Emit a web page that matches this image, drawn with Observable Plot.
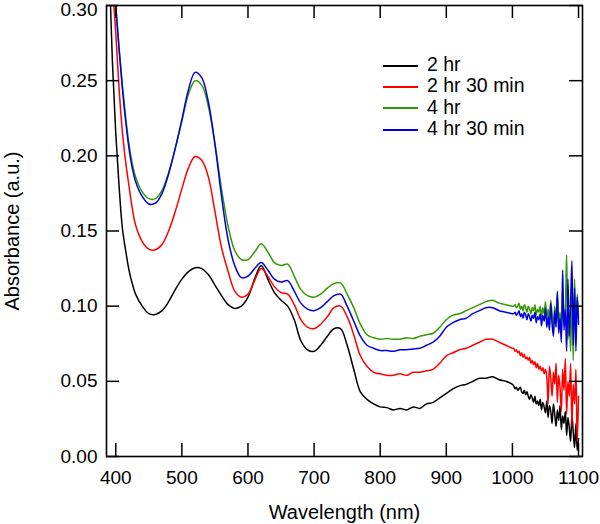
<!DOCTYPE html>
<html>
<head>
<meta charset="utf-8">
<script src="https://cdn.jsdelivr.net/npm/d3@7"></script>
<script src="https://cdn.jsdelivr.net/npm/@observablehq/plot@0.6"></script>
<style>
  body { margin: 0; background: white; }
  #wrap { position: relative; width: 600px; height: 524px; }
  #legend { position: absolute; left: 383px; top: 54px; font-family: "Liberation Sans", Arial, sans-serif; font-size: 19.5px; color: black; }
  .row { height: 21.3px; line-height: 21.3px; white-space: nowrap; }
  .sw { display: inline-block; width: 35px; height: 2px; vertical-align: middle; margin-right: 9px; }
</style>
</head>
<body>
<div id="wrap"></div>
<script>
// ---- data ----
const seriesNames = ["2 hr", "2 hr 30 min", "4 hr", "4 hr 30 min"];
const seriesColors = ["#000000", "#ff0000", "#339900", "#0000dd"];

const wavelengthSmooth = [390,395,400,405,410,415,420,425,430,440,450,460,470,480,490,500,510,520,530,540,550,560,570,580,590,600,610,620,630,640,650,660,670,680,690,700,710,720,730,740,750,760,770,780,790,800,810,820,830,840,850,860,870,880,890,900,910,920,930,940,950,960,970,980,990,1000];
const wavelengthNoisy = [1002,1004,1006,1008,1010,1012,1014,1016,1018,1020,1022,1024,1026,1028,1030,1032,1034,1036,1038,1040,1042,1044,1046,1048,1050,1052,1054,1056,1058,1060,1062,1064,1066,1068,1070,1072,1074,1076,1078,1080,1082,1084,1086,1088,1090,1092,1094,1096,1098,1100];

const abs2hrSmooth = [0.330,0.262,0.215,0.180,0.152,0.137,0.124,0.115,0.108,0.100,0.095,0.0945,0.097,0.103,0.111,0.118,0.123,0.1255,0.125,0.121,0.114,0.107,0.101,0.0985,0.100,0.106,0.118,0.127,0.118,0.109,0.104,0.100,0.091,0.077,0.071,0.070,0.074,0.080,0.085,0.085,0.074,0.058,0.043,0.038,0.035,0.033,0.0325,0.031,0.032,0.031,0.033,0.032,0.035,0.036,0.039,0.042,0.045,0.047,0.048,0.050,0.052,0.052,0.053,0.051,0.050,0.048];
const abs2hrNoisy = [0.047,0.045,0.046,0.044,0.045,0.046,0.043,0.042,0.044,0.041,0.043,0.040,0.038,0.041,0.039,0.036,0.040,0.035,0.037,0.034,0.038,0.031,0.036,0.033,0.029,0.037,0.026,0.034,0.030,0.022,0.035,0.028,0.020,0.031,0.024,0.034,0.018,0.027,0.022,0.030,0.014,0.026,0.019,0.010,0.028,0.016,0.006,0.022,0.004,0.012];

const abs2hr30Smooth = [0.360,0.315,0.282,0.245,0.216,0.196,0.180,0.165,0.154,0.143,0.138,0.1375,0.141,0.150,0.163,0.178,0.192,0.1995,0.197,0.186,0.163,0.139,0.123,0.110,0.106,0.108,0.117,0.125,0.120,0.113,0.109,0.108,0.101,0.091,0.086,0.085,0.088,0.093,0.099,0.100,0.093,0.081,0.067,0.060,0.056,0.055,0.054,0.054,0.055,0.054,0.056,0.056,0.057,0.058,0.062,0.067,0.069,0.071,0.072,0.074,0.076,0.078,0.078,0.076,0.074,0.072];
const abs2hr30Noisy = [0.072,0.070,0.071,0.069,0.070,0.067,0.069,0.066,0.068,0.065,0.066,0.064,0.066,0.062,0.064,0.061,0.063,0.059,0.062,0.058,0.060,0.057,0.059,0.055,0.058,0.053,0.035,0.060,0.052,0.040,0.056,0.048,0.062,0.036,0.054,0.046,0.030,0.058,0.044,0.065,0.028,0.050,0.040,0.062,0.020,0.048,0.035,0.058,0.010,0.040];

const abs4hrSmooth = [0.370,0.330,0.300,0.272,0.247,0.226,0.208,0.195,0.186,0.176,0.1715,0.1715,0.177,0.189,0.205,0.223,0.241,0.250,0.247,0.233,0.208,0.178,0.153,0.137,0.131,0.131,0.136,0.1415,0.136,0.129,0.127,0.128,0.120,0.111,0.107,0.106,0.108,0.112,0.115,0.1155,0.108,0.099,0.088,0.081,0.079,0.078,0.0785,0.078,0.078,0.079,0.0785,0.080,0.081,0.082,0.086,0.091,0.094,0.095,0.097,0.099,0.101,0.103,0.104,0.102,0.101,0.100];
const abs4hrNoisy = [0.100,0.101,0.099,0.100,0.102,0.098,0.100,0.097,0.101,0.099,0.096,0.100,0.098,0.095,0.099,0.097,0.101,0.094,0.098,0.096,0.100,0.093,0.099,0.095,0.103,0.092,0.098,0.090,0.104,0.094,0.086,0.100,0.092,0.108,0.088,0.096,0.082,0.112,0.090,0.100,0.134,0.078,0.096,0.070,0.110,0.064,0.118,0.085,0.108,0.092];

const abs4hr30Smooth = [0.370,0.330,0.300,0.271,0.245,0.223,0.205,0.192,0.183,0.173,0.168,0.1685,0.175,0.188,0.205,0.224,0.244,0.2555,0.252,0.236,0.208,0.173,0.144,0.127,0.119,0.120,0.125,0.129,0.124,0.118,0.116,0.117,0.110,0.102,0.098,0.097,0.099,0.103,0.107,0.108,0.100,0.090,0.080,0.074,0.072,0.0705,0.0705,0.070,0.071,0.071,0.0715,0.072,0.074,0.076,0.080,0.086,0.089,0.091,0.092,0.095,0.097,0.099,0.099,0.097,0.096,0.095];
const abs4hr30Noisy = [0.095,0.096,0.094,0.095,0.097,0.093,0.095,0.092,0.096,0.094,0.091,0.095,0.093,0.090,0.094,0.092,0.096,0.089,0.093,0.091,0.095,0.087,0.094,0.090,0.099,0.086,0.093,0.084,0.102,0.088,0.080,0.097,0.086,0.110,0.082,0.092,0.076,0.124,0.084,0.098,0.070,0.118,0.080,0.102,0.130,0.074,0.112,0.070,0.106,0.088];

const xTicks = [400,500,600,700,800,900,1000,1100];
const yTicks = [0.00,0.05,0.10,0.15,0.20,0.25,0.30];
const xLabel = "Wavelength (nm)";
const yLabel = "Absorbance (a.u.)";

// ---- build long table ----
const wavelength = wavelengthSmooth.concat(wavelengthNoisy);
const seriesValues = [
  abs2hrSmooth.concat(abs2hrNoisy),
  abs2hr30Smooth.concat(abs2hr30Noisy),
  abs4hrSmooth.concat(abs4hrNoisy),
  abs4hr30Smooth.concat(abs4hr30Noisy)
];
const data = seriesNames.flatMap((name, i) =>
  wavelength.map((w, j) => ({series: name, wavelength: w, absorbance: seriesValues[i][j]})));

const W = 600, H = 524, mL = 106, mR = 18, mT = 5, mB = 68;
const plotH = H - mT - mB, plotW = W - mL - mR;
const tk = 13;
const font = "'Liberation Sans', Arial, sans-serif";
const yTop = yTicks[yTicks.length - 1];

const chart = Plot.plot({
  width: W, height: H,
  marginLeft: mL, marginRight: mR, marginTop: mT, marginBottom: mB,
  x: {domain: [386, 1106], axis: null},
  y: {domain: [0, 0.30], axis: null},
  color: {domain: seriesNames, range: seriesColors},
  style: {fontFamily: font, fontSize: "19px", background: "white", color: "black"},
  marks: [
    Plot.lineY(data, {x: "wavelength", y: "absorbance", z: "series", stroke: "series", strokeWidth: 1.5, curve: "catmull-rom", clip: true}),
    Plot.frame({stroke: "black", strokeWidth: 1.6}),
    // inward ticks on all four sides
    Plot.tickX(xTicks, {x: d => d, insetTop: plotH - tk, stroke: "black", strokeWidth: 1.5}),
    Plot.tickX(xTicks, {x: d => d, insetBottom: plotH - tk, stroke: "black", strokeWidth: 1.5}),
    Plot.tickY(yTicks, {y: d => d, insetRight: plotW - tk, stroke: "black", strokeWidth: 1.5}),
    Plot.tickY(yTicks, {y: d => d, insetLeft: plotW - tk, stroke: "black", strokeWidth: 1.5}),
    // tick labels
    Plot.text(xTicks, {x: d => d, frameAnchor: "bottom", dy: 21, lineAnchor: "middle", text: d => String(d), fontSize: 19, fill: "black"}),
    Plot.text(yTicks.filter(d => d !== yTop), {y: d => d, frameAnchor: "left", dx: -9, textAnchor: "end", lineAnchor: "middle", text: d => d.toFixed(2), fontSize: 19, fill: "black"}),
    Plot.text([yTop], {y: d => d, frameAnchor: "left", dx: -9, dy: 4, textAnchor: "end", lineAnchor: "middle", text: d => d.toFixed(2), fontSize: 19, fill: "black"}),
    // axis titles
    Plot.text([xLabel], {frameAnchor: "bottom", dy: 56, lineAnchor: "middle", textAnchor: "middle", text: d => d, fontSize: 20, fill: "black"}),
    Plot.text([yLabel], {frameAnchor: "left", dx: -94, rotate: -90, lineAnchor: "middle", textAnchor: "middle", text: d => d, fontSize: 20, fill: "black"})
  ]
});

const wrap = document.getElementById("wrap");
wrap.appendChild(chart);

const legend = document.createElement("div");
legend.id = "legend";
seriesNames.forEach((name, i) => {
  const row = document.createElement("div");
  row.className = "row";
  const sw = document.createElement("span");
  sw.className = "sw";
  sw.style.background = seriesColors[i];
  row.appendChild(sw);
  row.appendChild(document.createTextNode(name));
  legend.appendChild(row);
});
wrap.appendChild(legend);
</script>
</body>
</html>
